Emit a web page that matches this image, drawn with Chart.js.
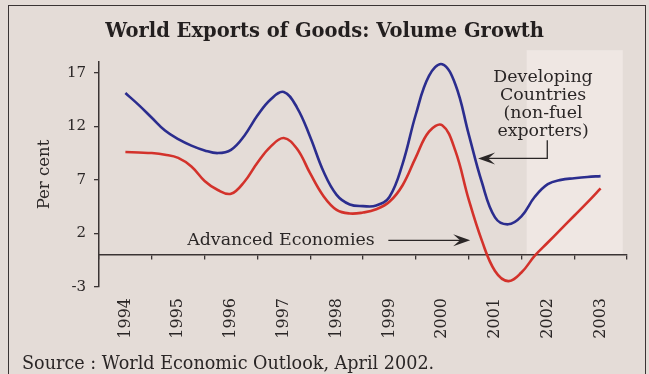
<!DOCTYPE html>
<html>
<head>
<meta charset="utf-8">
<script src="https://cdn.jsdelivr.net/npm/chart.js@4"></script>
<style>
  html, body { margin: 0; padding: 0; background: #e4dcd7; }
  body { width: 649px; height: 374px; overflow: hidden; position: relative; }
  #frame { position: absolute; left: 8px; top: 5px; width: 636px; height: 420px; border: 1.5px solid #3a3434; }
  #wrap { position: absolute; left: 0; top: 0; width: 649px; height: 374px; }
  #source { position: absolute; left: 22px; top: 353px; font: 17.6px "DejaVu Serif"; color: #2a2626; white-space: nowrap; }
</style>
</head>
<body>
<div id="frame"></div>
<div id="wrap"><canvas id="chart"></canvas></div>
<div id="source">Source : World Economic Outlook, April 2002.</div>
<script>
// Export volume growth, per cent, read at quarter-year steps
const periods = [1994, 1994.25, 1994.5, 1994.75, 1995, 1995.25, 1995.5, 1995.75,
  1996, 1996.25, 1996.5, 1996.75, 1997, 1997.25, 1997.5, 1997.75,
  1998, 1998.25, 1998.5, 1998.75, 1999, 1999.25, 1999.5, 1999.75,
  2000, 2000.25, 2000.5, 2000.75, 2001, 2001.25, 2001.5, 2001.75,
  2002, 2002.25, 2002.5, 2002.75, 2003];
const developing = [15.1, 14.0, 12.8, 11.6, 10.8, 10.2, 9.75, 9.5,
  9.8, 11.1, 13.0, 14.5, 15.2, 13.75, 11.0, 7.8,
  5.6, 4.7, 4.55, 4.6, 5.4, 8.5, 13.1, 16.7,
  17.8, 15.9, 11.3, 6.8, 3.5, 2.85, 3.6, 5.4,
  6.6, 7.0, 7.15, 7.27, 7.35];
const advanced = [9.6, 9.55, 9.5, 9.35, 9.05, 8.25, 6.9, 6.05,
  5.7, 6.8, 8.6, 10.1, 10.9, 9.9, 7.6, 5.5,
  4.2, 3.86, 3.95, 4.25, 4.95, 6.5, 9.1, 11.5,
  12.1, 9.7, 5.2, 1.35, -1.5, -2.45, -1.65, -0.1,
  1.15, 2.4, 3.65, 4.9, 6.2];
const years = [1994, 1995, 1996, 1997, 1998, 1999, 2000, 2001, 2002, 2003];
const yTicks = [-3, 2, 7, 12, 17];

// projection years get a lighter panel
const shade = { from: 2001.6, to: 2003.42, top: 19.1, bottom: 0 };

const serif = '"DejaVu Serif", "Liberation Serif", serif';
const ink = '#2a2626';

const toPoints = arr => arr.map((v, i) => ({ x: periods[i], y: v }));

function arrowHead(ctx, x, y, dir) {
  const len = 17, half = 6;
  ctx.beginPath();
  ctx.moveTo(x, y);
  ctx.lineTo(x - dir * len, y - half);
  ctx.lineTo(x - dir * len * 0.6, y);
  ctx.lineTo(x - dir * len, y + half);
  ctx.closePath();
  ctx.fill();
}

const shadePlugin = {
  id: 'shade',
  beforeDraw(chart) {
    const { ctx, scales: { x, y } } = chart;
    const l = x.getPixelForValue(shade.from), r = x.getPixelForValue(shade.to);
    const t = y.getPixelForValue(shade.top), b = y.getPixelForValue(shade.bottom);
    ctx.save();
    ctx.fillStyle = '#efe7e3';
    ctx.fillRect(l, t, r - l, b - t);
    ctx.restore();
  }
};

const notes = {
  id: 'notes',
  afterDatasetsDraw(chart) {
    const { ctx, scales: { x, y } } = chart;
    ctx.save();
    ctx.fillStyle = ink;
    ctx.strokeStyle = ink;
    ctx.lineWidth = 1.3;
    ctx.font = '17.4px ' + serif;
    ctx.textBaseline = 'middle';

    // developing countries label + elbow arrow
    ctx.textAlign = 'center';
    const cx = x.getPixelForValue(2001.91);
    let ty = y.getPixelForValue(16.6);
    ['Developing', 'Countries', '(non-fuel', 'exporters)'].forEach(s => {
      ctx.fillText(s, cx, ty);
      ty += 18;
    });
    const ax = x.getPixelForValue(2001.99);
    const ay0 = y.getPixelForValue(10.7), ay1 = y.getPixelForValue(9.0);
    const tip = x.getPixelForValue(2000.68);
    ctx.beginPath();
    ctx.moveTo(ax, ay0);
    ctx.lineTo(ax, ay1);
    ctx.lineTo(tip + 10, ay1);
    ctx.stroke();
    arrowHead(ctx, tip, ay1, -1);

    // advanced economies label + arrow
    ctx.textAlign = 'left';
    const ly = y.getPixelForValue(1.36);
    ctx.fillText('Advanced Economies', x.getPixelForValue(1995.17), ly);
    const bx = x.getPixelForValue(1998.98), btip = x.getPixelForValue(2000.53);
    ctx.beginPath();
    ctx.moveTo(bx, ly);
    ctx.lineTo(btip - 10, ly);
    ctx.stroke();
    arrowHead(ctx, btip, ly, 1);
    ctx.restore();
  }
};

new Chart(document.getElementById('chart'), {
  type: 'line',
  data: {
    datasets: [
      { label: 'Developing Countries (non-fuel exporters)', data: toPoints(developing),
        borderColor: '#2b2d8e', borderWidth: 2.6, pointRadius: 0, tension: 0.4 },
      { label: 'Advanced Economies', data: toPoints(advanced),
        borderColor: '#d3322b', borderWidth: 2.6, pointRadius: 0, tension: 0.4 }
    ]
  },
  options: {
    responsive: true,
    maintainAspectRatio: false,
    animation: false,
    events: [],
    // equal side padding keeps the title centred on the page
    layout: { padding: { top: 0, right: 22, bottom: 0, left: 22 } },
    plugins: {
      legend: { display: false },
      tooltip: { enabled: false },
      title: {
        display: true,
        text: 'World Exports of Goods: Volume Growth',
        color: '#231f1f',
        font: { family: serif, size: 19.5, weight: 'bold', lineHeight: 1.2 },
        padding: { top: 20, bottom: 18.6 }
      }
    },
    scales: {
      x: {
        type: 'linear',
        position: { y: 0 },
        min: 1993.5, max: 2003.5,
        afterBuildTicks: s => { s.ticks = years.map(v => ({ value: v - 0.5 })).concat([{ value: 2003.5 }]); },
        ticks: { display: false },
        grid: { drawOnChartArea: false, drawTicks: true, tickLength: 4, color: '#3a3434', lineWidth: 1.3 },
        border: { display: true, color: '#3a3434', width: 1.5 }
      },
      x2: {
        type: 'linear',
        position: 'bottom',
        min: 1993.5, max: 2003.5,
        afterBuildTicks: s => { s.ticks = years.map(v => ({ value: v })); },
        afterFit: s => { s.height = 87; },
        ticks: { color: ink, font: { family: serif, size: 16 }, minRotation: 90, maxRotation: 90,
          padding: 3, callback: v => String(v) },
        grid: { display: false },
        border: { display: false }
      },
      y: {
        min: -3, max: 18,
        afterBuildTicks: s => { s.ticks = yTicks.map(v => ({ value: v })); },
        afterFit: s => { s.width = 77; },
        ticks: { color: ink, font: { family: serif, size: 15 }, padding: 8 },
        grid: { drawOnChartArea: false, drawTicks: true, tickLength: 5, color: '#3a3434', lineWidth: 1.3 },
        border: { display: true, color: '#3a3434', width: 1.5 },
        title: { display: true, text: 'Per cent', color: ink, font: { family: serif, size: 16.5 },
          padding: { top: 13 } }
      }
    }
  },
  plugins: [shadePlugin, notes]
});
</script>
</body>
</html>
